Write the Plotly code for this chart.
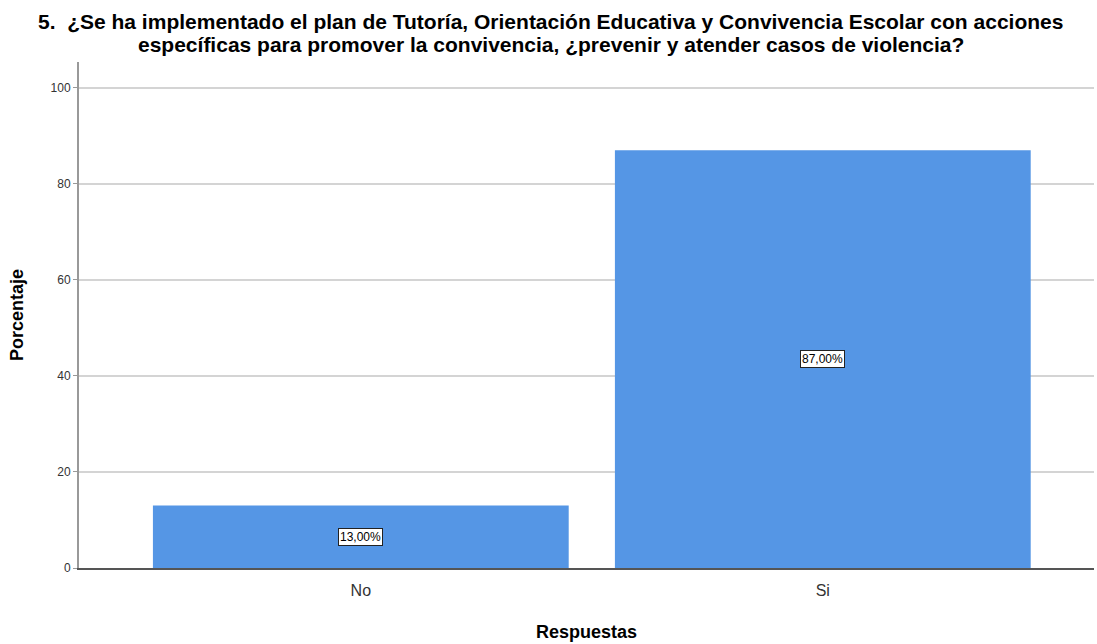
import plotly.graph_objects as go

categorias = ["No", "Si"]
porcentajes = [13.0, 87.0]
etiquetas = ["13,00%", "87,00%"]
ticks_y = [0, 20, 40, 60, 80, 100]

titulo_l1 = "5.  ¿Se ha implementado el plan de Tutoría, Orientación Educativa y Convivencia Escolar con acciones"
titulo_l2 = "específicas para promover la convivencia, ¿prevenir y atender casos de violencia?"

fig = go.Figure()
fig.add_trace(go.Bar(
    x=categorias, y=porcentajes,
    width=0.9,
    marker_color="#5596e5",
    marker_line_width=0,
    hoverinfo="skip",
))

# etiquetas en caja blanca a mitad de la barra
for cat, val, txt in zip(categorias, porcentajes, etiquetas):
    fig.add_annotation(
        x=cat, y=val / 2, text=txt, showarrow=False,
        font=dict(family="Liberation Sans, Arial", size=12, color="black"),
        bgcolor="white", bordercolor="#222222", borderwidth=1, borderpad=1,
    )

# título en dos líneas, interlineado ajustado
for txt, yy in [(titulo_l1, 1.081), (titulo_l2, 1.0336)]:
    fig.add_annotation(
        xref="paper", yref="paper", x=0.465, y=yy,
        xanchor="center", yanchor="middle", text=txt, showarrow=False,
        borderpad=0,
        font=dict(family="Liberation Sans, Arial", size=21, color="black", weight="bold"),
    )

fig.update_layout(
    width=1097, height=644,
    margin=dict(l=79, r=3, t=62, b=76),
    paper_bgcolor="white", plot_bgcolor="white",
    showlegend=False,
    font=dict(family="Liberation Sans, Arial", color="#222222"),
    xaxis=dict(
        range=[-0.61, 1.587], automargin=False,
        showline=True, linecolor="#555555", linewidth=1.5,
        ticks="", tickfont=dict(size=16, color="#333333"),
        ticklabelstandoff=7,
        title=dict(text="Respuestas", standoff=27,
                   font=dict(size=18, color="black", weight="bold")),
    ),
    yaxis=dict(
        range=[0, 105.4], tickvals=ticks_y, automargin=False,
        showline=True, linecolor="#999999", linewidth=2,
        showgrid=True, gridcolor="#d4d4d4", gridwidth=1.5,
        zeroline=False,
        ticks="outside", ticklen=4, tickcolor="#999999",
        tickfont=dict(size=12, color="#333333"),
        title=dict(text="Porcentaje", standoff=22,
                   font=dict(size=18, color="black", weight="bold")),
    ),
)

# quitar el margen por defecto del <body> para que la figura empiece en (0, 0)
fig.write_html("out.html", config={"displayModeBar": False},
               post_script="document.body.style.margin='0';")
